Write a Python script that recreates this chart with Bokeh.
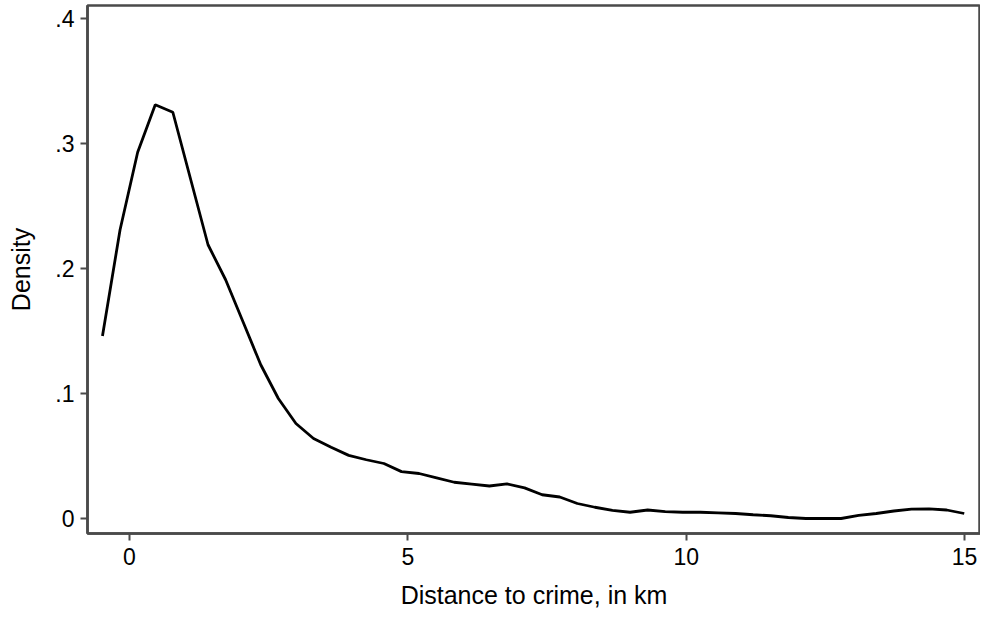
from bokeh.plotting import figure
from bokeh.models import FixedTicker, Range1d
from bokeh.embed import file_html
from bokeh.resources import INLINE

# kernel density estimate (50 grid points)
distance_km = [
    -0.485, -0.169, 0.147, 0.463, 0.779, 1.095, 1.411, 1.727, 2.043, 2.358,
    2.674, 2.990, 3.306, 3.622, 3.938, 4.254, 4.570, 4.886, 5.202, 5.517,
    5.833, 6.149, 6.465, 6.781, 7.097, 7.413, 7.729, 8.045, 8.360, 8.676,
    8.992, 9.308, 9.624, 9.940, 10.256, 10.572, 10.888, 11.203, 11.519, 11.835,
    12.151, 12.467, 12.783, 13.099, 13.415, 13.731, 14.047, 14.363, 14.679, 14.995,
]
density = [
    0.146, 0.231, 0.293, 0.331, 0.325, 0.272, 0.219, 0.191, 0.157, 0.123,
    0.096, 0.076, 0.064, 0.057, 0.0505, 0.047, 0.044, 0.0375, 0.036, 0.0325,
    0.029, 0.0275, 0.026, 0.0277, 0.0245, 0.019, 0.0172, 0.012, 0.009, 0.0065,
    0.005, 0.0068, 0.0055, 0.005, 0.005, 0.0045, 0.004, 0.003, 0.0022, 0.0008,
    0.0, 0.0, 0.0, 0.0025, 0.004, 0.006, 0.0075, 0.0077, 0.0068, 0.004,
]

x_ticks = [0, 5, 10, 15]
y_ticks = [0, 0.1, 0.2, 0.3, 0.4]
y_tick_labels = {0: "0", 0.1: ".1", 0.2: ".2", 0.3: ".3", 0.4: ".4"}

FONT = "Liberation Sans"
FRAME = "#4a4a4a"

p = figure(
    width=980,
    height=626,
    x_range=Range1d(-0.754, 15.287),
    y_range=Range1d(-0.012, 0.4104),
    x_axis_label="Distance to crime, in km",
    y_axis_label="Density",
    output_backend="svg",
    toolbar_location=None,
    min_border_left=87,
    min_border_right=0,
    min_border_top=5,
    min_border_bottom=93,
)

p.line(distance_km, density, line_color="black", line_width=2.8)

p.grid.visible = False
p.outline_line_color = FRAME
p.outline_line_width = 2.5
p.background_fill_color = "white"
p.border_fill_color = "white"

p.xaxis.ticker = FixedTicker(ticks=x_ticks)
p.yaxis.ticker = FixedTicker(ticks=y_ticks)
p.yaxis.major_label_overrides = y_tick_labels

for ax in (p.xaxis, p.yaxis):
    ax.axis_line_color = FRAME
    ax.axis_line_width = 2.5
    ax.major_tick_line_color = FRAME
    ax.major_tick_line_width = 2
    ax.major_tick_out = 7
    ax.major_tick_in = 0
    ax.minor_tick_line_color = None
    ax.major_label_text_font = FONT
    ax.major_label_text_font_size = "23px"
    ax.major_label_text_color = "black"
    ax.axis_label_text_font = FONT
    ax.axis_label_text_font_size = "25px"
    ax.axis_label_text_font_style = "normal"
    ax.axis_label_text_color = "black"

p.yaxis.major_label_orientation = "horizontal"
p.yaxis.major_label_standoff = 6
p.yaxis.axis_label_standoff = 17
p.xaxis.major_label_standoff = 7
p.xaxis.axis_label_standoff = 13

open("out.html", "w").write(file_html(p, INLINE))
